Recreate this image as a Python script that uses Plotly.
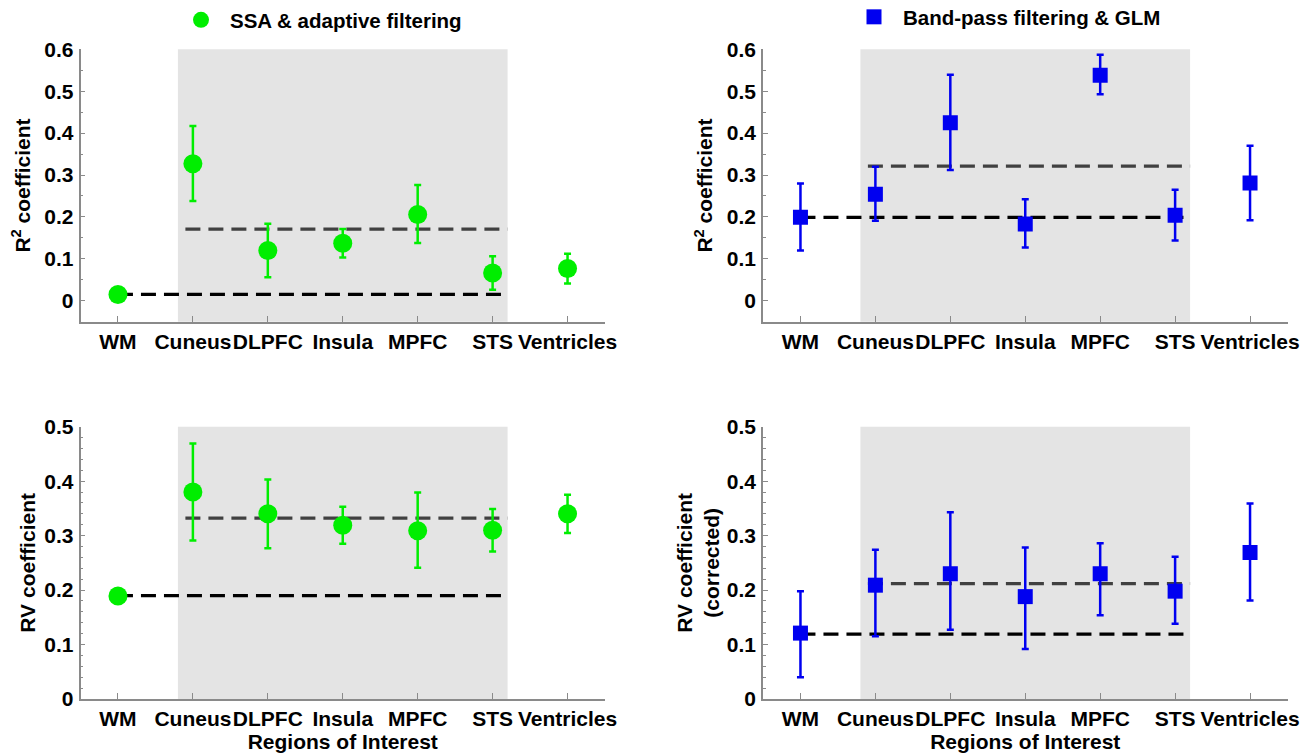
import plotly.graph_objects as go

# ---------------- data ----------------
regions = ["WM", "Cuneus", "DLPFC", "Insula", "MPFC", "STS", "Ventricles"]
positions = [1, 2, 3, 4, 5, 6, 7]

# SSA & adaptive filtering : R^2
ssa_r2 = [0.015, 0.327, 0.120, 0.137, 0.206, 0.066, 0.077]
ssa_r2_hi = [0.015, 0.417, 0.184, 0.171, 0.276, 0.106, 0.112]
ssa_r2_lo = [0.015, 0.238, 0.056, 0.103, 0.138, 0.026, 0.041]
ssa_r2_ref_wm = 0.015
ssa_r2_ref_roi = 0.171

# Band-pass filtering & GLM : R^2
bp_r2 = [0.199, 0.254, 0.425, 0.183, 0.538, 0.204, 0.281]
bp_r2_hi = [0.280, 0.320, 0.539, 0.242, 0.587, 0.265, 0.370]
bp_r2_lo = [0.120, 0.191, 0.312, 0.127, 0.493, 0.144, 0.192]
bp_r2_ref_wm = 0.199
bp_r2_ref_roi = 0.321

# SSA & adaptive filtering : RV
ssa_rv = [0.189, 0.380, 0.340, 0.319, 0.309, 0.310, 0.340]
ssa_rv_hi = [0.189, 0.469, 0.403, 0.353, 0.379, 0.349, 0.375]
ssa_rv_lo = [0.189, 0.291, 0.277, 0.285, 0.241, 0.271, 0.305]
ssa_rv_ref_wm = 0.190
ssa_rv_ref_roi = 0.332

# Band-pass filtering & GLM : RV (corrected)
bp_rv = [0.121, 0.209, 0.230, 0.188, 0.230, 0.198, 0.269]
bp_rv_hi = [0.198, 0.274, 0.343, 0.278, 0.286, 0.261, 0.359]
bp_rv_lo = [0.040, 0.115, 0.127, 0.092, 0.154, 0.138, 0.181]
bp_rv_ref_wm = 0.119
bp_rv_ref_roi = 0.212

shade_x = [1.8, 6.2]
wm_line_x = [1, 6.2]
roi_line_x = [1.9, 6.2]

# ---------------- style ----------------
FONT = "Liberation Sans, Arial, sans-serif"
GREEN = "rgb(0,238,0)"
BLUE = "rgb(0,0,240)"
AXIS = "#8a8a8a"
W, H = 1306, 753
FS = 21

fig = go.Figure()


def add_panel(xa, ya, vals, hi, lo, ref_wm, ref_roi, color, symbol, msize, name, legend, showleg):
    xref = "x" if xa == "x1" else xa
    yref = "y" if ya == "y1" else ya
    fig.add_shape(type="rect", xref=xref, yref=yref + " domain", x0=shade_x[0], x1=shade_x[1],
                  y0=0, y1=1, fillcolor="#e4e4e4", line=dict(width=0), layer="below")
    fig.add_trace(go.Scatter(x=wm_line_x, y=[ref_wm, ref_wm], mode="lines", xaxis=xref, yaxis=yref,
                             line=dict(color="black", width=3.2, dash="15px,8px"), showlegend=False,
                             hoverinfo="skip"))
    fig.add_trace(go.Scatter(x=roi_line_x, y=[ref_roi, ref_roi], mode="lines", xaxis=xref, yaxis=yref,
                             line=dict(color="#404040", width=3.2, dash="15px,8px"), showlegend=False,
                             hoverinfo="skip"))
    fig.add_trace(go.Scatter(
        x=positions, y=vals, mode="markers", xaxis=xref, yaxis=yref, name=name,
        marker=dict(color=color, size=msize, symbol=symbol, line=dict(width=0)),
        error_y=dict(type="data", symmetric=False,
                     array=[h - v for h, v in zip(hi, vals)],
                     arrayminus=[v - l for v, l in zip(vals, lo)],
                     color=color, thickness=2.5, width=3.5),
        showlegend=showleg, legend=legend))


add_panel("x1", "y1", ssa_r2, ssa_r2_hi, ssa_r2_lo, ssa_r2_ref_wm, ssa_r2_ref_roi,
          GREEN, "circle", 19, "SSA & adaptive filtering", "legend", True)
add_panel("x2", "y2", bp_r2, bp_r2_hi, bp_r2_lo, bp_r2_ref_wm, bp_r2_ref_roi,
          BLUE, "square", 15, "Band-pass filtering & GLM", "legend2", True)
add_panel("x3", "y3", ssa_rv, ssa_rv_hi, ssa_rv_lo, ssa_rv_ref_wm, ssa_rv_ref_roi,
          GREEN, "circle", 19, "SSA & adaptive filtering", "legend", False)
add_panel("x4", "y4", bp_rv, bp_rv_hi, bp_rv_lo, bp_rv_ref_wm, bp_rv_ref_roi,
          BLUE, "square", 15, "Band-pass filtering & GLM", "legend2", False)

left_dom = [80.5 / W, 605 / W]
right_dom = [763 / W, 1287.5 / W]
top_dom = [1 - 321.7 / H, 1 - 49.3 / H]
bot_dom = [1 - 699 / H, 1 - 426.7 / H]

tickfont = dict(family=FONT, size=FS, color="black", weight="bold")
titlefont = dict(family=FONT, size=FS, color="black", weight="bold")
legfont = dict(family=FONT, size=20.5, color="black", weight="bold")


def xaxis(dom, anchor, title=None):
    d = dict(domain=dom, anchor=anchor, range=[0.5, 7.5], tickmode="array", tickvals=positions,
             ticktext=regions, ticks="inside", ticklen=6, tickcolor=AXIS, tickwidth=1, tickangle=0,
             showline=True, linecolor=AXIS, linewidth=1.5, showgrid=False, zeroline=False,
             tickfont=tickfont, ticklabelstandoff=0, fixedrange=True)
    if title:
        d["title"] = dict(text=title, font=titlefont, standoff=0)
    return d


def yaxis(dom, anchor, rng, minor, title, standoff):
    return dict(domain=dom, anchor=anchor, range=rng, tickmode="linear", tick0=0, dtick=0.1,
                ticks="inside", ticklen=5, tickcolor=AXIS, tickwidth=1,
                minor=dict(dtick=minor, tick0=0, ticks="inside", ticklen=3, tickcolor=AXIS, showgrid=False),
                showline=True, linecolor=AXIS, linewidth=1.5, showgrid=False, zeroline=False,
                tickfont=tickfont, ticklabelstandoff=1, fixedrange=True,
                title=dict(text=title, font=titlefont, standoff=standoff))


fig.update_layout(
    width=W, height=H, autosize=False,
    margin=dict(l=0, r=0, t=0, b=0, autoexpand=False),
    paper_bgcolor="white", plot_bgcolor="white",
    font=dict(family=FONT, color="black"),
    xaxis=xaxis(left_dom, "y"),
    yaxis=yaxis(top_dom, "x", [-0.05, 0.6], 0.05, "R<sup>2</sup> coefficient", 8),
    xaxis2=xaxis(right_dom, "y2"),
    yaxis2=yaxis(top_dom, "x2", [-0.05, 0.6], 0.05, "R<sup>2</sup> coefficient", 8),
    xaxis3=xaxis(left_dom, "y3", "Regions of Interest"),
    yaxis3=yaxis(bot_dom, "x3", [0, 0.5], 0.02, "RV coefficient", 3),
    xaxis4=xaxis(right_dom, "y4", "Regions of Interest"),
    yaxis4=yaxis(bot_dom, "x4", [0, 0.5], 0.02, "RV coefficient<br>(corrected)", 1),
    legend=dict(x=172 / W, y=1 - 20 / H, xanchor="left", yanchor="middle", bgcolor="rgba(0,0,0,0)",
                font=legfont, itemwidth=48),
    legend2=dict(x=845 / W, y=1 - 17 / H, xanchor="left", yanchor="middle", bgcolor="rgba(0,0,0,0)",
                 font=legfont, itemwidth=48),
)

fig.write_html("out.html")
